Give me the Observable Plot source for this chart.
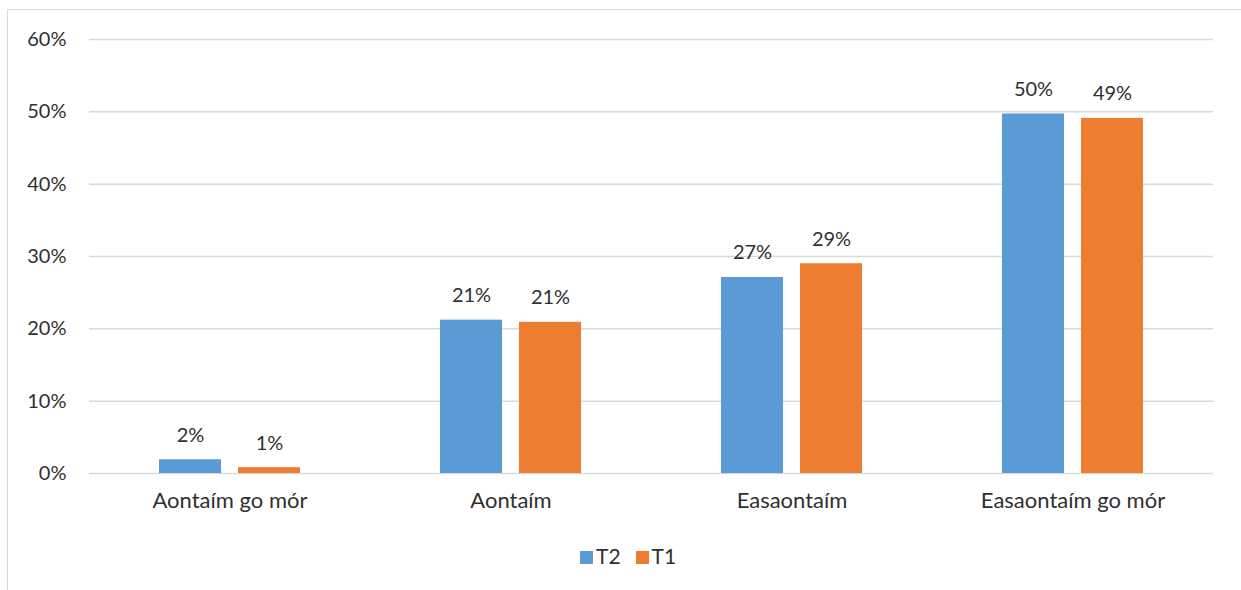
<!DOCTYPE html>
<html>
<head>
<meta charset="utf-8">
<script src="https://cdn.jsdelivr.net/npm/d3@7"></script>
<script src="https://cdn.jsdelivr.net/npm/@observablehq/plot@0.6"></script>
<style>
  html, body { margin: 0; padding: 0; background: #fff; width: 1241px; height: 590px; overflow: hidden; }
  #frame { position: absolute; left: 7px; top: 9px; width: 1400px; height: 800px; border: 1.5px solid #d9d9d9; box-sizing: border-box; }
  #chart { position: absolute; left: 0; top: 0; }
  #legend { position: absolute; left: 580px; top: 543px; display: flex; gap: 15px; font-family: Lato, "Open Sans", sans-serif; font-size: 21px; color: #303030; }
  .item { display: flex; align-items: center; gap: 3px; }
  .sw { width: 13px; height: 13px; display: inline-block; margin-top: 3px; }
</style>
</head>
<body>
<div id="frame"></div>
<div id="chart"></div>
<div id="legend"></div>
<script>
const categories = ["Aontaím go mór", "Aontaím", "Easaontaím", "Easaontaím go mór"];
const seriesNames = ["T2", "T1"];
const seriesColors = ["#5b9bd5", "#ed7d31"];
const valuesT2 = [1.9, 21.2, 27.1, 49.7];
const valuesT1 = [0.8, 20.9, 29.0, 49.1];
const labelsT2 = ["2%", "21%", "27%", "50%"];
const labelsT1 = ["1%", "21%", "29%", "49%"];
const yTicks = [0, 10, 20, 30, 40, 50, 60];

const data = [];
categories.forEach((c, i) => {
  data.push({cat: c, series: "T2", value: valuesT2[i], label: labelsT2[i]});
  data.push({cat: c, series: "T1", value: valuesT1[i], label: labelsT1[i]});
});

const font = "Lato, 'Open Sans', sans-serif";
const ink = "#303030";
const chart = Plot.plot({
  width: 1241,
  height: 530,
  marginLeft: 88,
  marginRight: 27,
  marginTop: 39,
  marginBottom: 57,
  style: {fontFamily: font, fontSize: "20px", color: ink, background: "transparent"},
  fx: {domain: categories, padding: 0, label: null, axis: null},
  x: {domain: seriesNames, paddingInner: 0.2125, paddingOuter: 0.8656, axis: null},
  y: {domain: [0, 60], ticks: yTicks, label: null, axis: null},
  color: {domain: seriesNames, range: seriesColors},
  marks: [
    Plot.ruleY(yTicks, {y: d => d, stroke: "#d9d9d9", strokeWidth: 1.5}),
    Plot.axisY({ticks: yTicks, tickFormat: d => d + "%", tickSize: 0, tickPadding: 23, label: null, fontSize: 20, fill: ink, facetAnchor: "left"}),
    Plot.axisFx({anchor: "bottom", tickSize: 0, tickPadding: 19, label: null, fontSize: 22, fill: ink}),
    Plot.barY(data, {fx: "cat", x: "series", y: "value", fill: "series"}),
    Plot.text(data, {fx: "cat", x: "series", y: "value", text: "label", lineAnchor: "bottom", dy: -18, fill: ink, fontSize: 20})
  ]
});
document.getElementById("chart").appendChild(chart);

const legend = document.getElementById("legend");
seriesNames.forEach((s, i) => {
  const it = document.createElement("div");
  it.className = "item";
  const sw = document.createElement("span");
  sw.className = "sw";
  sw.style.background = seriesColors[i];
  const t = document.createElement("span");
  t.textContent = s;
  it.appendChild(sw); it.appendChild(t);
  legend.appendChild(it);
});
</script>
</body>
</html>
